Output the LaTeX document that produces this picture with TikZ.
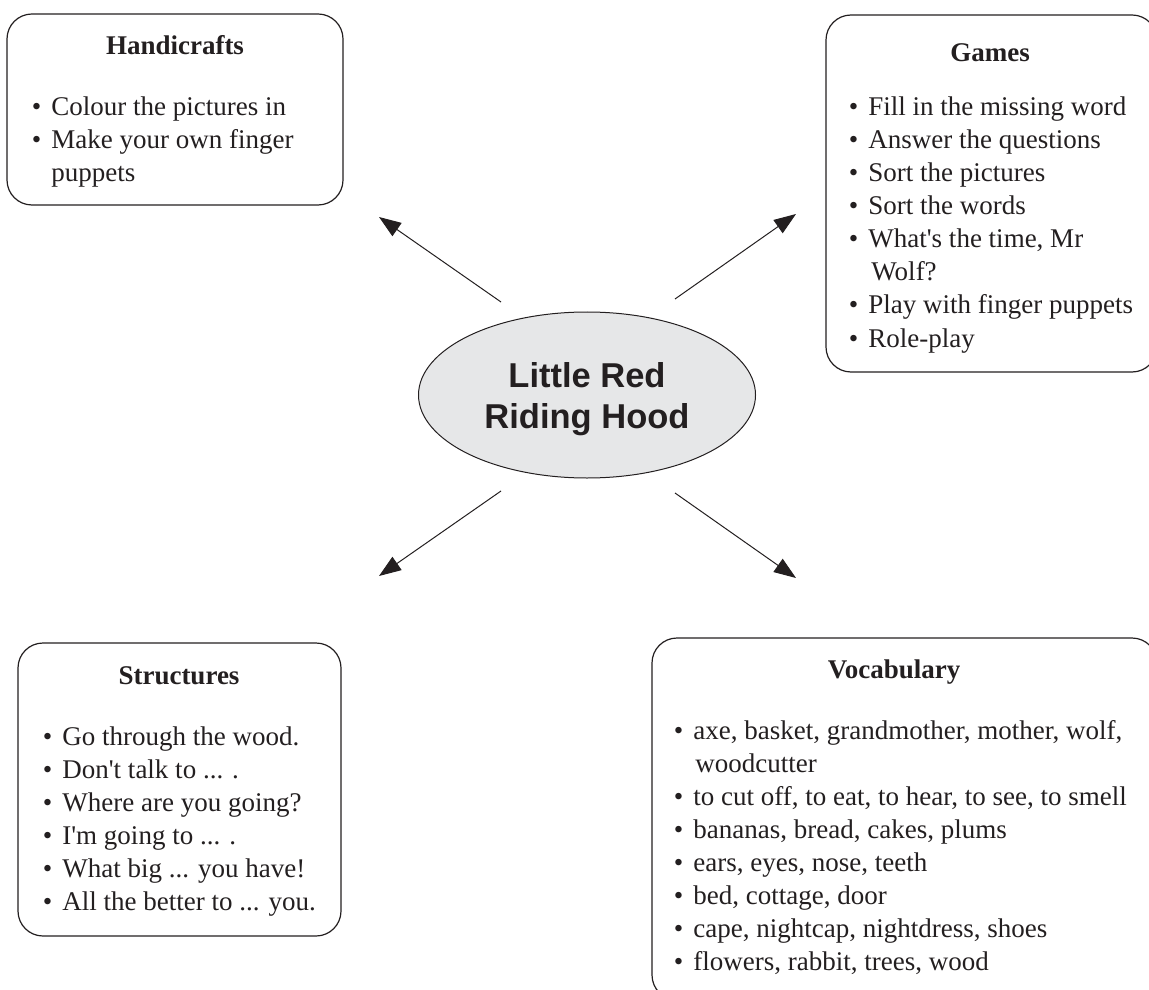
\documentclass[tikz,border=0pt]{standalone}
\usepackage{fontspec}
\setmainfont{Liberation Serif}[Ligatures=TeXOff]
\newfontfamily\headsans{Liberation Sans}
\usetikzlibrary{arrows.meta,shapes.geometric}
\definecolor{ink}{HTML}{231F20}
\definecolor{hoodgray}{HTML}{E6E7E8}
\newcommand\bul{\llap{•\hspace{5pt}}}
\begin{document}
\begin{tikzpicture}[x=0.5pt,y=-0.5pt,
  card/.style={draw=ink,line width=0.6pt,rounded corners=12.5pt},
  body/.style={inner sep=0pt,anchor=base west,text=ink,font=\fontsize{13.5}{16.5}\selectfont},
  head/.style={inner sep=0pt,anchor=base,text=ink,font=\fontsize{13.5}{16.5}\selectfont\bfseries},
  hub/.style={ellipse,draw=ink,line width=0.5pt,fill=hoodgray,minimum width=168.5pt,minimum height=83pt,inner sep=0pt},
  hubtext/.style={inner sep=0pt,anchor=base,text=ink,font=\headsans\bfseries\fontsize{17.25}{20.5}\selectfont},
  arr/.style={draw=ink,line width=0.5pt,-{Triangle[length=11pt,width=8pt]}}]
\useasboundingbox (0,0) rectangle (1149,989);
\clip (0,0) rectangle (1149,989);

% boxes
\draw[card] (7,14) rectangle (343,205);
\draw[card] (826,15) rectangle (1157,372);
\draw[card] (18,643) rectangle (341,936);
\draw[card] (652,638) rectangle (1157,1000);

% Handicrafts
\node[head] (hct) at (175,55) {Handicrafts};
\node[body] (hc1) at (51,116) {\bul Colour the pictures in};
\node[body] (hc2) at (51,149) {\bul Make your own finger};
\node[body] (hc3) at (51,182) {puppets};

% Games
\node[head] (gmt) at (990,62) {Games};
\node[body] (gm1) at (868,116) {\bul Fill in the missing word};
\node[body] (gm2) at (868,149) {\bul Answer the questions};
\node[body] (gm3) at (868,182) {\bul Sort the pictures};
\node[body] (gm4) at (868,215) {\bul Sort the words};
\node[body] (gm5) at (868,248) {\bul What's the time, Mr};
\node[body] (gm6) at (871,281) {Wolf?};
\node[body] (gm7) at (868,314) {\bul Play with finger puppets};
\node[body] (gm8) at (868,347) {\bul Role-play};

% Structures
\node[head] (stt) at (179,684) {Structures};
\node[body] (st1) at (62,745) {\bul Go through the wood.};
\node[body] (st2) at (62,778) {\bul Don't talk to ... .};
\node[body] (st3) at (62,811) {\bul Where are you going?};
\node[body] (st4) at (62,844) {\bul I'm going to ... .};
\node[body] (st5) at (62,877) {\bul What big ... you have!};
\node[body] (st6) at (62,910) {\bul All the better to ... you.};

% Vocabulary
\node[head] (vct) at (894,678) {Vocabulary};
\node[body] (vc1) at (693,739) {\bul axe, basket, grandmother, mother, wolf,};
\node[body] (vc2) at (695,772) {woodcutter};
\node[body] (vc3) at (693,805) {\bul to cut off, to eat, to hear, to see, to smell};
\node[body] (vc4) at (693,838) {\bul bananas, bread, cakes, plums};
\node[body] (vc5) at (693,871) {\bul ears, eyes, nose, teeth};
\node[body] (vc6) at (693,904) {\bul bed, cottage, door};
\node[body] (vc7) at (693,937) {\bul cape, nightcap, nightdress, shoes};
\node[body] (vc8) at (693,970) {\bul flowers, rabbit, trees, wood};

% centre
\node[hub] (hub) at (587,395) {};
\node[hubtext] (hub1) at (587,387) {Little Red};
\node[hubtext] (hub2) at (587,428) {Riding Hood};

% arrows
\coordinate (ulS) at (501,302); \coordinate (ulE) at (379,217);
\coordinate (urS) at (675,299); \coordinate (urE) at (796,214);
\coordinate (llS) at (501,491); \coordinate (llE) at (379,576);
\coordinate (lrS) at (675,493); \coordinate (lrE) at (796,578);
\draw[arr] (ulS) -- (ulE);
\draw[arr] (urS) -- (urE);
\draw[arr] (llS) -- (llE);
\draw[arr] (lrS) -- (lrE);
\end{tikzpicture}
\end{document}
